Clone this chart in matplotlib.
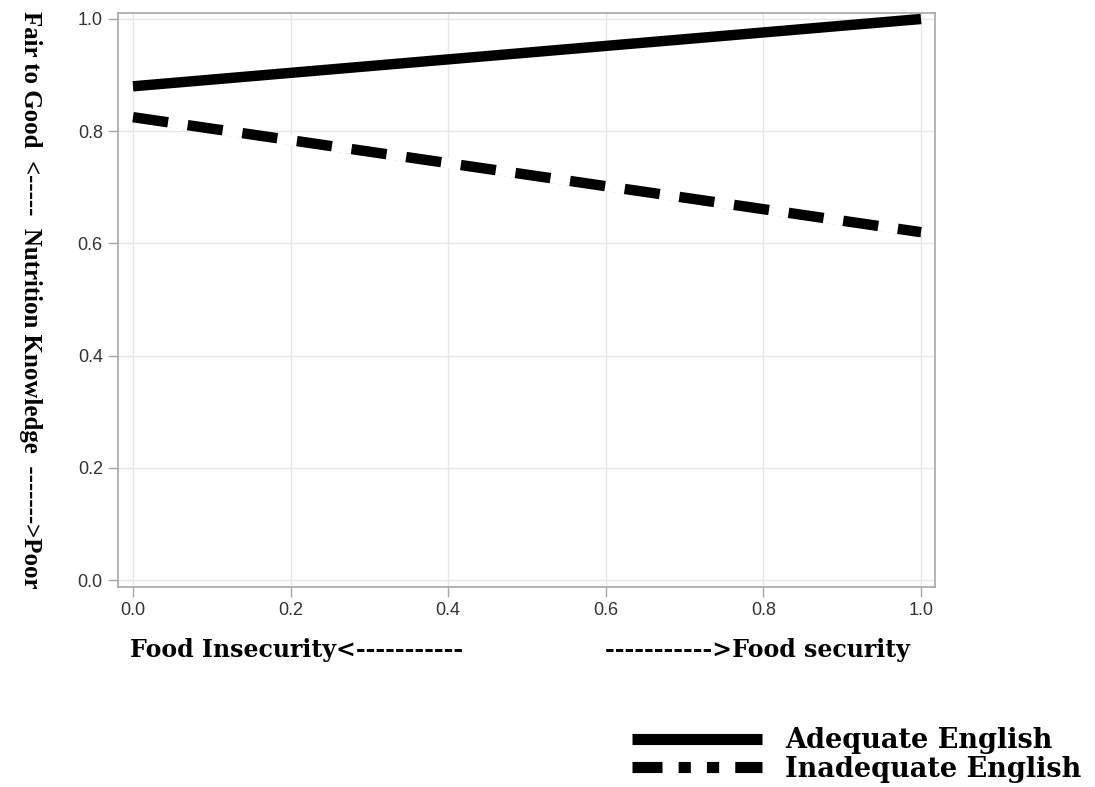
import matplotlib
matplotlib.use("Agg")
import matplotlib.pyplot as plt
from matplotlib.lines import Line2D

# Data
x_vals = [0.0, 1.0]
adequate = [0.88, 1.0]
inadequate = [0.825, 0.62]
x_ticks = [0.0, 0.2, 0.4, 0.6, 0.8, 1.0]
y_ticks = [0.0, 0.2, 0.4, 0.6, 0.8, 1.0]
series_names = ["Adequate English", "Inadequate English"]

fig = plt.figure(figsize=(10.95, 7.87), dpi=100)
ax = fig.add_axes([0.1078, 0.2541, 0.7461, 0.7294])

grid_c = "#e6e6e6"
spine_c = "#a8a8a8"

# Adequate: thin red line slightly below, thick black line
ax.plot(x_vals, [v - 0.005 for v in adequate], color="#c00000", lw=1.2, zorder=3,
        solid_capstyle="butt")
ax.plot(x_vals, adequate, color="black", lw=7.5, zorder=4, solid_capstyle="butt")

# Inadequate: thin black line beneath, white base, black dashes
ax.plot(x_vals, [v - 0.007 for v in inadequate], color="black", lw=1.2, zorder=3,
        solid_capstyle="butt")
ax.plot(x_vals, inadequate, color="white", lw=7.5, zorder=4, solid_capstyle="butt")
ax.plot(x_vals, inadequate, color="black", lw=7.5, zorder=5, dashes=(3.4, 1.9),
        dash_capstyle="butt")

ax.set_xlim(-0.019, 1.0178)
ax.set_ylim(-0.0125, 1.0107)
ax.set_xticks(x_ticks)
ax.set_yticks(y_ticks)
ax.set_xticklabels([f"{t:.1f}" for t in x_ticks], fontsize=13, family="Liberation Sans",
                   color="#333333")
ax.set_yticklabels([f"{t:.1f}" for t in y_ticks], fontsize=13, family="Liberation Sans",
                   color="#333333")
ax.grid(True, color=grid_c, lw=1)
ax.set_axisbelow(True)
for s in ax.spines.values():
    s.set_color(spine_c)
    s.set_linewidth(1.2)
ax.tick_params(direction="out", length=7, color=spine_c, width=1, pad=4)

# Y label
fig.text(0.028, 1 - 300 / 787, "Fair to Good  <-----  Nutrition Knowledge  ------->Poor",
         rotation=270, ha="center", va="center", fontsize=17.9, fontweight="bold",
         family="Liberation Serif", rotation_mode="anchor")

# X labels
fig.text(130 / 1095, 1 - 650 / 787, "Food Insecurity<-----------", ha="left", va="center",
         fontsize=17, fontweight="bold", family="DejaVu Serif")
fig.text(910 / 1095, 1 - 650 / 787, "----------->Food security", ha="right", va="center",
         fontsize=17, fontweight="bold", family="DejaVu Serif")

# Legend
handles = [
    Line2D([0], [0], color="black", lw=8, solid_capstyle="butt"),
    (Line2D([0], [0], color="white", lw=8),
     Line2D([0], [0], color="black", lw=8,
            dashes=(2.7, 1.45, 1.1, 1.45, 1.1, 1.45, 2.6, 0.01),
            dash_capstyle="butt")),
]
leg = fig.legend(handles, series_names, loc="center left",
                 bbox_to_anchor=(632 / 1095, 1 - 755 / 787), frameon=False,
                 prop={"family": "DejaVu Serif", "weight": "bold", "size": 19.5},
                 handlelength=4.8, handletextpad=0.85, labelspacing=0.05, borderpad=0,
                 borderaxespad=0)

fig.savefig("out.png", dpi=100)
